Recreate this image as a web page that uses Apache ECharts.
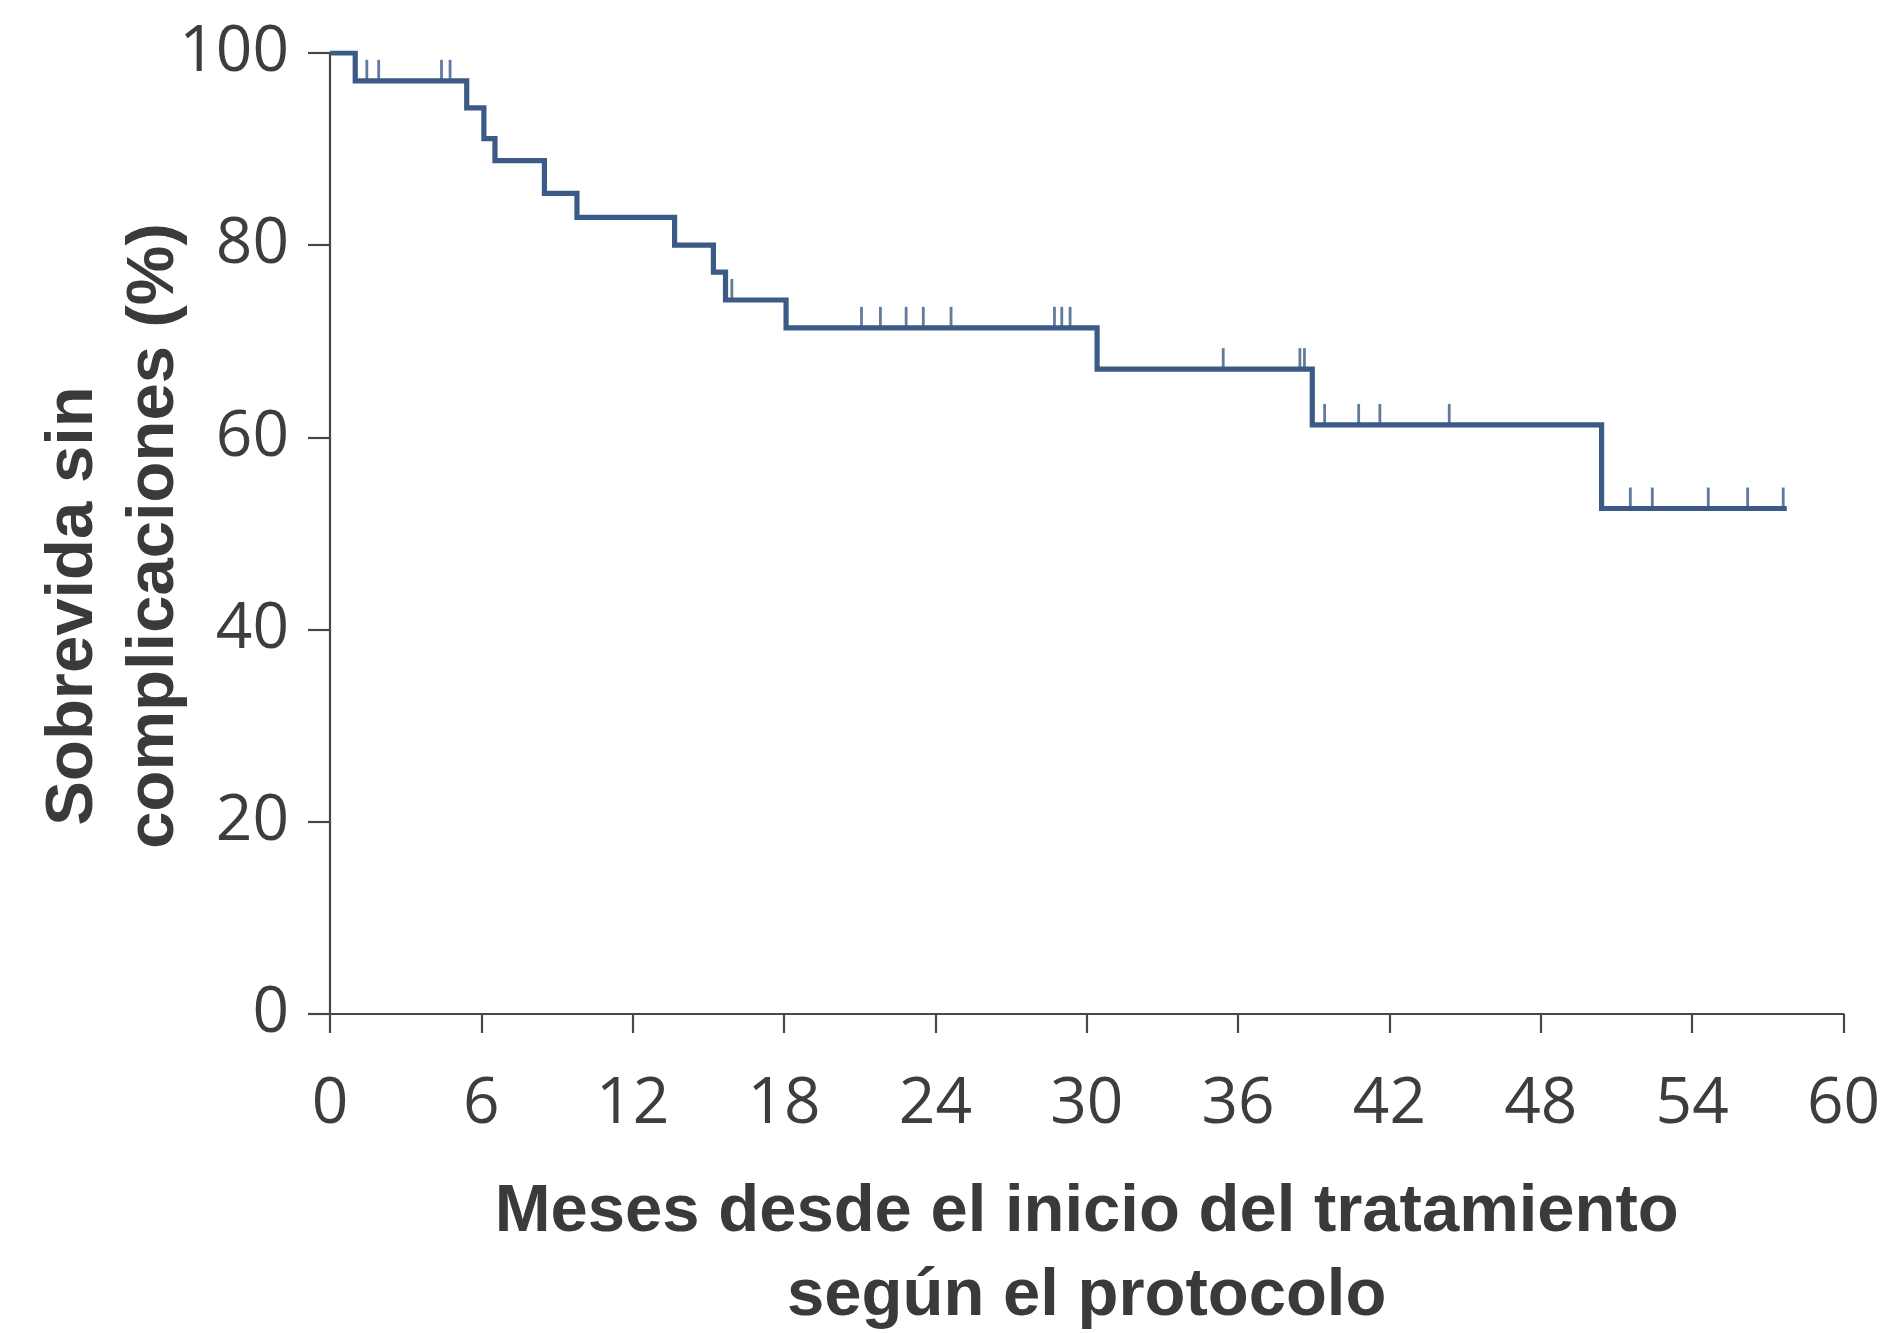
<!DOCTYPE html>
<html>
<head>
<meta charset="utf-8">
<script src="https://cdn.jsdelivr.net/npm/echarts@6/dist/echarts.min.js"></script>
<style>
html,body{margin:0;padding:0;background:#fff;}
#chart{width:1888px;height:1333px;}
</style>
</head>
<body>
<div id="chart"></div>
<script>
// Kaplan-Meier step data (months, % event-free)
const times = [0, 1.0, 5.42, 6.1, 6.54, 8.5, 9.79, 13.66, 15.2, 15.68, 18.08, 30.41, 38.94, 50.41, 57.75];
const survival = [100, 97.1, 94.3, 91.1, 88.8, 85.4, 82.9, 80.0, 77.2, 74.3, 71.4, 67.1, 61.3, 52.6, 52.6];
// Censored observations (months)
const censorTimes = [1.46, 1.93, 4.42, 4.76, 15.93, 21.07, 21.82, 22.84, 23.52, 24.62, 28.72, 29.01, 29.34,
  35.41, 38.45, 38.63, 39.43, 40.78, 41.62, 44.37, 51.55, 52.42, 54.64, 56.2, 57.61];
const xTicks = [0, 6, 12, 18, 24, 30, 36, 42, 48, 54, 60];
const yTicks = [0, 20, 40, 60, 80, 100];
const xTitle = 'Meses desde el inicio del tratamiento\nsegún el protocolo';
const yTitle1 = 'Sobrevida sin';
const yTitle2 = 'complicaciones (%)';

const lineColor = '#3b5a85';
const axisColor = '#474747';

function levelAt(t) {
  let v = survival[0];
  for (let i = 0; i < times.length; i++) { if (times[i] <= t) v = survival[i]; }
  return v;
}
const stepData = times.map((t, i) => [t, survival[i]]);
const censorData = censorTimes.map(t => [t, levelAt(t)]);

const chart = echarts.init(document.getElementById('chart'));
chart.setOption({
  animation: false,
  backgroundColor: '#fff',
  grid: { left: 330, right: 44.5, top: 53, bottom: 319, containLabel: false, outerBoundsMode: 'none' },
  xAxis: {
    type: 'value', min: 0, max: 60, interval: 6,
    axisLine: { show: true, onZero: false, lineStyle: { color: axisColor, width: 2.2 } },
    axisTick: { show: true, length: 19, lineStyle: { color: axisColor, width: 2.2 } },
    splitLine: { show: false },
    axisLabel: { margin: 59, fontFamily: 'Open Sans', fontSize: 64, color: '#3d3d3d',
      formatter: v => xTicks.includes(v) ? String(v) : '' },
    name: xTitle, nameLocation: 'middle', nameGap: 157,
    nameTextStyle: { fontFamily: 'Liberation Sans', fontWeight: 'bold', fontSize: 67, color: '#3a3a3a', lineHeight: 84 }
  },
  yAxis: {
    type: 'value', min: 0, max: 100, interval: 20,
    axisLine: { show: true, onZero: false, lineStyle: { color: axisColor, width: 2.2 } },
    axisTick: { show: true, length: 22, lineStyle: { color: axisColor, width: 2.2 } },
    splitLine: { show: false },
    axisLabel: { margin: 41, fontFamily: 'Open Sans', fontSize: 64, color: '#3d3d3d',
      formatter: v => yTicks.includes(v) ? String(v) : '' }
  },
  graphic: [
    { type: 'text', x: 74, y: 606, rotation: Math.PI / 2,
      style: { text: yTitle1, fontFamily: 'Liberation Sans', fontWeight: 'bold', fontSize: 67, fill: '#3a3a3a', align: 'center', verticalAlign: 'middle' } },
    { type: 'text', x: 155, y: 536, rotation: Math.PI / 2,
      style: { text: yTitle2, fontFamily: 'Liberation Sans', fontWeight: 'bold', fontSize: 67, fill: '#3a3a3a', align: 'center', verticalAlign: 'middle' } }
  ],
  series: [
    { type: 'line', step: 'end', data: stepData, showSymbol: false, symbol: 'none',
      lineStyle: { color: lineColor, width: 5.2, join: 'miter', cap: 'butt' }, z: 3 },
    { type: 'scatter', data: censorData, symbol: 'rect', symbolSize: [2.8, 21], symbolOffset: [0, -10.5],
      itemStyle: { color: lineColor }, z: 4 }
  ]
});
</script>
</body>
</html>
